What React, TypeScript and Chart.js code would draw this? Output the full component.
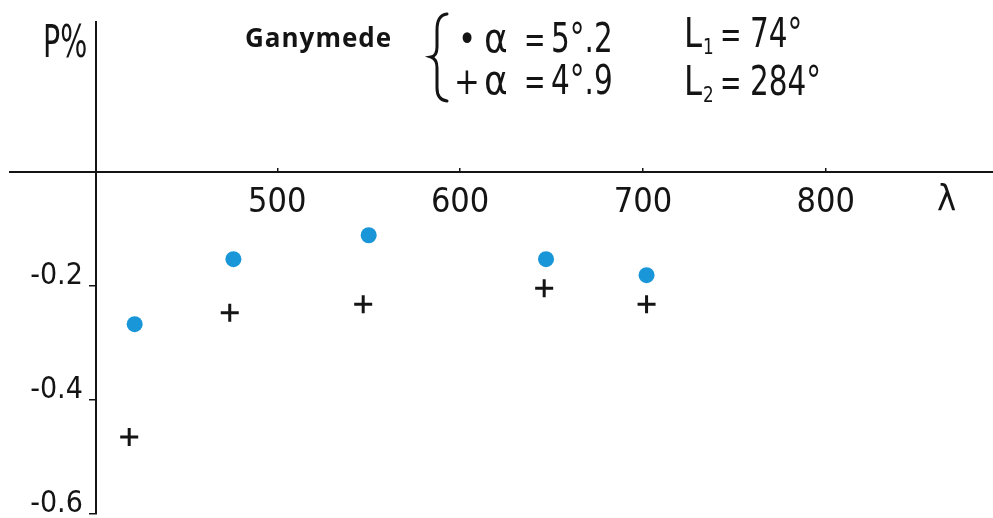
import React, { useEffect, useRef } from "react";
import { Chart, registerables } from "chart.js";

Chart.register(...registerables);

// Polarization (P %) versus wavelength (λ, nm) for two phase angles
const LAMBDA_ALPHA_52 = [422, 476, 550, 647, 702];
const P_ALPHA_52 = [-0.267, -0.153, -0.111, -0.153, -0.181];
const LAMBDA_ALPHA_49 = [419, 474, 547, 646, 702];
const P_ALPHA_49 = [-0.465, -0.247, -0.232, -0.204, -0.232];

const X_TICKS = [500, 600, 700, 800];
const Y_TICKS = [-0.2, -0.4, -0.6];
const Y_TICK_LABELS = ["-0.2", "-0.4", "-0.6"];

const TITLE = "Ganymede";
const LEGEND_MARKERS = ["•", "+"];
const LEGEND_ALPHA = ["5°.2", "4°.9"];
const LEGEND_L_INDEX = ["1", "2"];
const LEGEND_L_VALUE = ["74°", "284°"];
const Y_TITLE = "P%";
const X_TITLE = "λ";

const INK = "#141414";
const DOT_BLUE = "#1896d8";
const NARROW = '"Liberation Sans Narrow", "DejaVu Sans Condensed", sans-serif';

// Draws text squeezed horizontally, like narrow hand lettering
function drawNarrow(
  ctx: CanvasRenderingContext2D,
  text: string,
  x: number,
  y: number,
  size: number,
  squeeze: number,
  spacing = 0
) {
  ctx.save();
  ctx.translate(x, y);
  ctx.scale(squeeze, 1);
  ctx.font = `${size}px ${NARROW}`;
  (ctx as any).letterSpacing = `${spacing}px`;
  ctx.fillText(text, 0, 0);
  ctx.restore();
}

const annotations = {
  id: "annotations",
  afterDraw(chart: Chart) {
    const ctx = chart.ctx;
    ctx.save();
    ctx.fillStyle = INK;
    ctx.strokeStyle = INK;
    ctx.textBaseline = "alphabetic";
    ctx.textAlign = "left";

    // axis names
    drawNarrow(ctx, Y_TITLE, 43, 57, 44, 0.72);
    drawNarrow(ctx, X_TITLE, 937, 210, 36, 1);

    // object name
    ctx.font = 'bold 26px "Open Sans", sans-serif';
    (ctx as any).letterSpacing = "1px";
    ctx.fillText(TITLE, 245, 47);
    (ctx as any).letterSpacing = "0px";

    // brace grouping the two series
    ctx.lineWidth = 3;
    ctx.lineCap = "round";
    ctx.beginPath();
    ctx.moveTo(447, 14);
    ctx.quadraticCurveTo(437, 15, 437, 30);
    ctx.lineTo(437, 47);
    ctx.quadraticCurveTo(437, 56, 431, 57);
    ctx.quadraticCurveTo(437, 59, 437, 68);
    ctx.lineTo(437, 88);
    ctx.quadraticCurveTo(437, 100, 447, 101);
    ctx.stroke();

    const leftBase = [52, 94];
    const rightBase = [47, 95];
    for (let i = 0; i < 2; i++) {
      drawNarrow(ctx, LEGEND_MARKERS[i], i === 0 ? 458 : 454, leftBase[i], 38, 0.9);
      drawNarrow(ctx, "α", 484, leftBase[i], 40, 1);
      drawNarrow(ctx, "=", 524, leftBase[i], 38, 0.75);
      drawNarrow(ctx, LEGEND_ALPHA[i], 551, leftBase[i], 40, 0.82);

      drawNarrow(ctx, "L", 684, rightBase[i], 40, 0.9);
      drawNarrow(ctx, LEGEND_L_INDEX[i], 703, rightBase[i] + 7, 22, 0.85);
      drawNarrow(ctx, "=", 720, rightBase[i], 38, 0.75);
      drawNarrow(ctx, LEGEND_L_VALUE[i], 750, rightBase[i], 40, 0.82);
    }
    ctx.restore();
  },
};

export default function App() {
  const canvasRef = useRef<HTMLCanvasElement | null>(null);

  useEffect(() => {
    document.body.style.margin = "0";
    const canvas = canvasRef.current;
    if (!canvas) return;

    const zeroPadding = (scale: any) => {
      scale.paddingTop = 0;
      scale.paddingBottom = 0;
      scale.paddingLeft = 0;
      scale.paddingRight = 0;
    };

    const chart = new Chart(canvas, {
      type: "scatter",
      data: {
        datasets: [
          {
            label: "α = 5°.2",
            data: LAMBDA_ALPHA_52.map((x, i) => ({ x, y: P_ALPHA_52[i] })),
            pointStyle: "circle",
            pointRadius: 8,
            pointBackgroundColor: DOT_BLUE,
            pointBorderWidth: 0,
            borderWidth: 0,
          },
          {
            label: "α = 4°.9",
            data: LAMBDA_ALPHA_49.map((x, i) => ({ x, y: P_ALPHA_49[i] })),
            pointStyle: "cross",
            pointRadius: 9,
            pointBorderColor: INK,
            pointBorderWidth: 3,
          },
        ],
      },
      options: {
        responsive: false,
        animation: false,
        devicePixelRatio: 1,
        layout: { autoPadding: false, padding: { left: 10, right: 0, top: 22, bottom: 4 } },
        plugins: {
          legend: { display: false },
          title: { display: false },
          tooltip: { enabled: false },
        },
        scales: {
          x: {
            type: "linear",
            position: { y: 0 },
            min: 353.8,
            max: 891.5,
            afterBuildTicks: (scale: any) => {
              scale.ticks = X_TICKS.map((value) => ({ value }));
            },
            afterFit: zeroPadding,
            border: { display: true, color: INK, width: 2 },
            grid: { drawOnChartArea: false, drawTicks: true, tickLength: -5, color: INK, lineWidth: 1.5 },
            ticks: {
              padding: 16,
              color: INK,
              font: { family: NARROW, size: 34 },
              callback: (v: any) => String(v),
            },
          },
          y: {
            type: "linear",
            position: { x: 401 },
            min: -0.6,
            max: 0.263,
            afterBuildTicks: (scale: any) => {
              scale.ticks = Y_TICKS.map((value) => ({ value }));
            },
            afterFit: zeroPadding,
            border: { display: true, color: INK, width: 2 },
            grid: { drawOnChartArea: false, drawTicks: true, tickLength: 6, color: INK, lineWidth: 1.5 },
            ticks: {
              labelOffset: -10,
              color: INK,
              font: { family: NARROW, size: 30 },
              // en space keeps the label clear of the axis line
              callback: (v: any) => {
                const idx = Y_TICKS.findIndex((t) => Math.abs(t - v) < 1e-9);
                return idx >= 0 ? Y_TICK_LABELS[idx] + "\u2002" : "";
              },
            },
          },
        },
      },
      plugins: [annotations],
    } as any);

    return () => chart.destroy();
  }, []);

  return (
    <div style={{ width: 993, height: 518, background: "#fff" }}>
      <canvas ref={canvasRef} width={993} height={518} style={{ display: "block" }} />
    </div>
  );
}
